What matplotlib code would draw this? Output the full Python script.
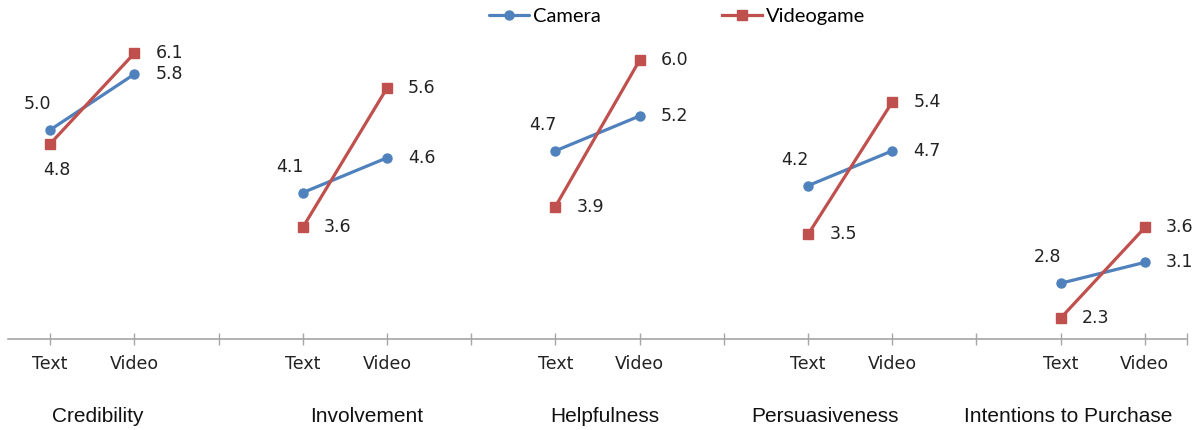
import matplotlib
matplotlib.use("Agg")
import matplotlib.pyplot as plt
from matplotlib.transforms import blended_transform_factory

plt.rcParams["font.family"] = ["DejaVu Sans"]

# data
groups = ["Credibility", "Involvement", "Helpfulness", "Persuasiveness", "Intentions to Purchase"]
conditions = ["Text", "Video"]
camera = [[5.0, 5.8], [4.1, 4.6], [4.7, 5.2], [4.2, 4.7], [2.8, 3.1]]
videogame = [[4.8, 6.1], [3.6, 5.6], [3.9, 6.0], [3.5, 5.4], [2.3, 3.6]]

BLUE = "#4F81BD"
RED = "#C0504D"
AXIS = "#A6A6A6"

W, H, DPI = 1195, 430, 100
fig = plt.figure(figsize=(W / DPI, H / DPI), dpi=DPI)
ax = fig.add_axes([8 / W, 1 - 339 / H, 1179 / W, (339 - 25.4) / H])

# each group takes three slots: Text, Video, gap
for gi in range(len(groups)):
    xs = [3 * gi, 3 * gi + 1]
    ax.plot(xs, camera[gi], color=BLUE, lw=2.3, marker="o", ms=6.5,
            label="Camera" if gi == 0 else None, solid_capstyle="round")
    ax.plot(xs, videogame[gi], color=RED, lw=2.3, marker="s", ms=6.5,
            label="Videogame" if gi == 0 else None)

    kw = dict(textcoords="offset pixels", ha="center", va="center",
              fontsize=12.5, color="#222222", annotation_clip=False)
    ax.annotate(f"{camera[gi][0]:.1f}", (xs[0], camera[gi][0]), xytext=(-13, 26), **kw)
    if gi == 0:
        ax.annotate(f"{videogame[gi][0]:.1f}", (xs[0], videogame[gi][0]), xytext=(7, -26), **kw)
    else:
        ax.annotate(f"{videogame[gi][0]:.1f}", (xs[0], videogame[gi][0]), xytext=(35, 0), **kw)
    ax.annotate(f"{camera[gi][1]:.1f}", (xs[1], camera[gi][1]), xytext=(35, 0), **kw)
    ax.annotate(f"{videogame[gi][1]:.1f}", (xs[1], videogame[gi][1]), xytext=(35, 0), **kw)

ax.set_xlim(-0.5, 13.5)
ax.set_ylim(2, 6.5)

ticks = list(range(14)) + [13.5]
labels = []
for t in ticks:
    if t == 13.5 or t % 3 == 2:
        labels.append("")
    else:
        labels.append(conditions[int(t) % 3])
ax.set_xticks(ticks, labels)
ax.tick_params(axis="x", direction="inout", length=9, color=AXIS, width=1,
               labelsize=12.5, labelcolor="#222222", pad=7)
ax.set_yticks([])
for s in ["left", "right", "top"]:
    ax.spines[s].set_visible(False)
ax.spines["bottom"].set_color(AXIS)
ax.spines["bottom"].set_linewidth(1.2)

# group names under the axis
group_x = [0.56, 3.76, 6.59, 9.2, 12.09]
trans = blended_transform_factory(ax.transData, fig.transFigure)
for name, gx in zip(groups, group_x):
    ax.text(gx, 1 - 416 / H, name, transform=trans, ha="center", va="center",
            fontsize=15, family="Liberation Sans", color="#111111")

leg = fig.legend(loc="center", bbox_to_anchor=(677 / W, 1 - 16 / H), ncol=2,
                 frameon=False, handlelength=2.0, handletextpad=0.2,
                 columnspacing=6.0, prop={"family": "Lato", "size": 14.5})

fig.savefig("out.png", dpi=DPI)
